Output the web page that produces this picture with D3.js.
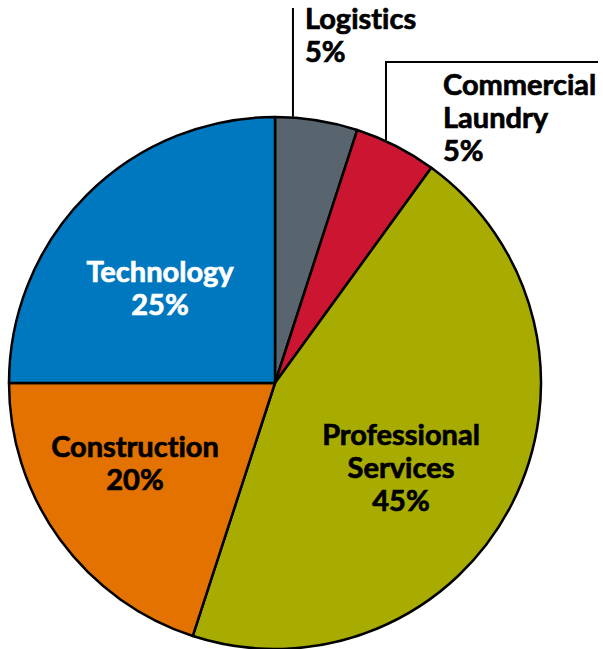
<!DOCTYPE html>
<html>
<head>
<meta charset="utf-8">
<script src="https://cdn.jsdelivr.net/npm/d3@7"></script>
<style>
  body { margin: 0; background: #fff; }
  svg text { font-family: Lato, "Open Sans", sans-serif; font-weight: 700; font-variant-ligatures: none; }
</style>
</head>
<body>
<svg id="chart" viewBox="0 0 603 649" width="603" height="649"></svg>
<script>
// sector shares, clockwise from 12 o'clock
const sectors = ["Logistics", "Commercial Laundry", "Professional Services", "Construction", "Technology"];
const shares = [5, 5, 45, 20, 25];
const colors = ["#58656e", "#cc1531", "#a8ab00", "#e37200", "#0078bf"];

const svg = d3.select("#chart");
const cx = 275, cy = 383, radius = 266;

const g = svg.append("g").attr("transform", `translate(${cx},${cy})`);

const pie = d3.pie().sort(null).value((d) => d.value);
const arc = d3.arc().innerRadius(0).outerRadius(radius);

const arcs = pie(sectors.map((s, i) => ({ name: s, value: shares[i], color: colors[i] })));

g.selectAll("path")
  .data(arcs)
  .enter()
  .append("path")
  .attr("d", arc)
  .attr("fill", (d) => d.data.color)
  .attr("stroke", "#000")
  .attr("stroke-width", 2.5)
  .attr("stroke-linejoin", "round");

// leader lines for the two small slices
const point = (a, r) => [r * Math.sin(a), -r * Math.cos(a)];
const along = (d, f) => d.startAngle + (d.endAngle - d.startAngle) * f;

const logiP = point(along(arcs[0], 0.215), radius);
g.append("path")
  .attr("d", `M${logiP[0]},${logiP[1] - 1}V${8 - cy}`)
  .attr("fill", "none")
  .attr("stroke", "#000")
  .attr("stroke-width", 2);

const laundP = point(along(arcs[1], 0.37), radius);
g.append("path")
  .attr("d", `M${laundP[0]},${laundP[1] - 1}V${62 - cy}H${598 - cx}`)
  .attr("fill", "none")
  .attr("stroke", "#000")
  .attr("stroke-width", 2);

// labels
const labels = [
  { lines: ["Logistics", "5%"], x: 305, y: 29, anchor: "start", fill: "#000" },
  { lines: ["Commercial", "Laundry", "5%"], x: 443, y: 95, anchor: "start", fill: "#000" },
  { lines: ["Professional", "Services", "45%"], x: 401, y: 445, anchor: "middle", fill: "#000" },
  { lines: ["Construction", "20%"], x: 135, y: 457, anchor: "middle", fill: "#000" },
  { lines: ["Technology", "25%"], x: 160, y: 282, anchor: "middle", fill: "#fff" },
];

const lineH = 33;
labels.forEach((l) => {
  const t = svg.append("text")
    .attr("x", l.x)
    .attr("y", l.y)
    .attr("text-anchor", l.anchor)
    .attr("fill", l.fill)
    .attr("stroke", l.fill)
    .attr("stroke-width", 0.7)
    .attr("font-size", 29);
  l.lines.forEach((s, i) => {
    t.append("tspan").attr("x", l.x).attr("dy", i === 0 ? 0 : lineH).text(s);
  });
});
</script>
</body>
</html>
